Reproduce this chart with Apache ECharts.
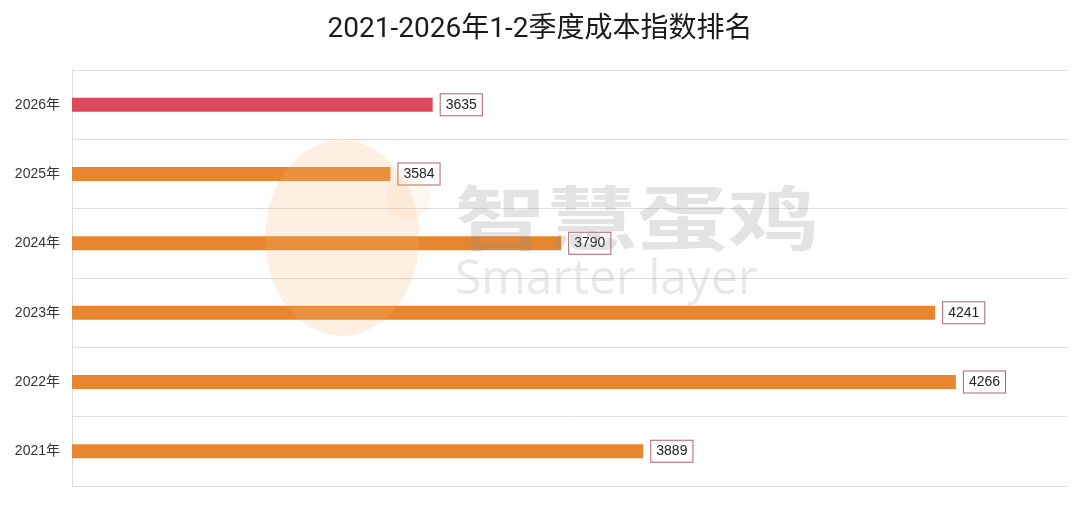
<!DOCTYPE html>
<html>
<head>
<meta charset="utf-8">
<script src="https://cdn.jsdelivr.net/npm/echarts@6/dist/echarts.min.js"></script>
<style>html,body{margin:0;padding:0;background:#fff;}#c{width:1080px;height:510px;}</style>
</head>
<body>
<div id="c"></div>
<script>
const categories = ['2021年','2022年','2023年','2024年','2025年','2026年'];
const values = [3889, 4266, 4241, 3790, 3584, 3635];
const highlightYear = '2026年';

const chart = echarts.init(document.getElementById('c'));
chart.setOption({
  backgroundColor: '#fff',
  animation: false,
  title: {
    text: '2021-2026年1-2季度成本指数排名',
    left: 'center', top: 11,
    textStyle: { fontFamily: 'Roboto, "Noto Sans CJK SC"', fontSize: 28, fontWeight: 'normal', color: '#1a1a1a' }
  },
  grid: { left: 72, right: 13, top: 70, bottom: 24 },
  xAxis: {
    type: 'value', min: 3200, max: 4400, show: false
  },
  yAxis: {
    type: 'category', data: categories,
    axisLine: { show: true, lineStyle: { color: '#dcdcdc' } },
    axisTick: { show: false },
    splitLine: { show: true, lineStyle: { color: '#dcdcdc' } },
    axisLabel: { fontFamily: '"Liberation Sans", "Noto Sans CJK SC"', fontSize: 14, color: '#333', margin: 12 }
  },
  series: [{
    type: 'bar',
    barWidth: 14,
    data: values.map((v, i) => ({
      value: v,
      itemStyle: { color: categories[i] === highlightYear ? '#DC4A5E' : '#E8862F' }
    })),
    label: {
      show: true, position: 'right', distance: 8,
      fontFamily: '"Liberation Sans", Arial', fontSize: 14, color: '#222',
      backgroundColor: '#fff', borderColor: '#B0606C', borderWidth: 1,
      padding: [4, 5, 3, 5]
    }
  }],
  graphic: [
    { type: 'ellipse', shape: { cx: 342, cy: 238, rx: 77, ry: 98 }, z: 100,
      style: { fill: 'rgba(244,180,110,0.2)' } },
    { type: 'circle', shape: { cx: 408, cy: 198, r: 22 }, z: 100,
      style: { fill: 'rgba(244,180,110,0.1)' } },
    { type: 'text', x: 455, y: 183, scaleX: 1.3, z: 100,
      style: { text: '智慧蛋鸡', font: 'bold 70px "Noto Sans CJK SC"', fill: 'rgba(140,140,140,0.24)' } },
    { type: 'text', x: 455, y: 256, z: 100,
      style: { text: 'Smarter layer', font: '48px "Open Sans"', fill: 'rgba(140,140,140,0.2)' } }
  ]
});
</script>
</body>
</html>
